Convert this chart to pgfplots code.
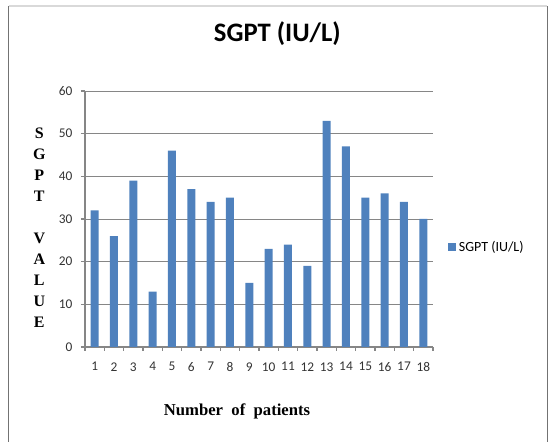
\documentclass[border=0pt]{standalone}
\usepackage{fontspec}
\setmainfont{Liberation Serif}
\newfontfamily\carlito{Carlito}
\usepackage{pgfplots}
\pgfplotsset{compat=1.18}
\definecolor{barblue}{HTML}{4F81BD}
\definecolor{gridgray}{HTML}{868686}
\begin{document}
\begin{tikzpicture}
\path[use as bounding box] (0,0) rectangle (413.25pt,331.5pt);
\draw[color=gray!90!black, line width=1pt] (6.4pt,0) -- (6.4pt,327pt);
\draw[color=gray!90!black, line width=1pt] (410.6pt,0) -- (410.6pt,327pt);
\draw[color=black!15, line width=0.8pt] (6.4pt,327pt) -- (410.6pt,327pt);
\begin{axis}[
  at={(63.75pt,71.25pt)}, anchor=south west,
  scale only axis, width=261pt, height=192pt,
  ybar, bar width=6pt,
  xmin=0.5, xmax=18.5, ymin=0, ymax=60,
  xtick={1,...,18},
  minor xtick={0.5,1.5,...,18.5},
  ytick={0,10,...,60},
  axis x line*=bottom, axis y line*=left,
  axis line style={draw=gridgray, line width=0.8pt, -},
  ymajorgrids, grid style={draw=gridgray, line width=0.6pt},
  tick align=outside,
  major x tick style={draw=none},
  minor x tick style={draw=gridgray, line width=0.8pt},
  y tick style={draw=gridgray, line width=0.8pt},
  major tick length=3pt, minor tick length=3pt,
  /pgf/number format/assume math mode=true,
  tick label style={font=\carlito\fontsize{10}{11}\selectfont, text=black!80},
  y tick label style={xshift=-3pt},
  x tick label style={yshift=-5pt},
  legend style={at={(1.043,0.3906)}, anchor=west, draw=none, fill=none,
    font=\carlito\fontsize{10.5}{12}\selectfont, inner sep=0pt},
  legend image code/.code={\fill[barblue] (0pt,-3pt) rectangle (6pt,3pt);},
]
\addplot[fill=barblue, draw=none] coordinates {
(1,32) (2,26) (3,39) (4,13) (5,46) (6,37) (7,34) (8,35) (9,15)
(10,23) (11,24) (12,19) (13,53) (14,47) (15,35) (16,36) (17,34) (18,30)
};
\addlegendentry{SGPT (IU/L)}
\end{axis}
\node[font=\carlito\bfseries\fontsize{20}{22}\selectfont] at (208pt,306pt) {SGPT (IU/L)};
\node[font=\bfseries\fontsize{12.5}{14}\selectfont] at (177.75pt,23.25pt) {Number\ \ of\ \ patients};
\node[font=\bfseries\fontsize{12}{15.75}\selectfont, align=center, inner sep=0pt] at (29.5pt,160.5pt)
  {S\\G\\P\\T\\\mbox{}\\V\\A\\L\\U\\E};
\end{tikzpicture}
\end{document}
